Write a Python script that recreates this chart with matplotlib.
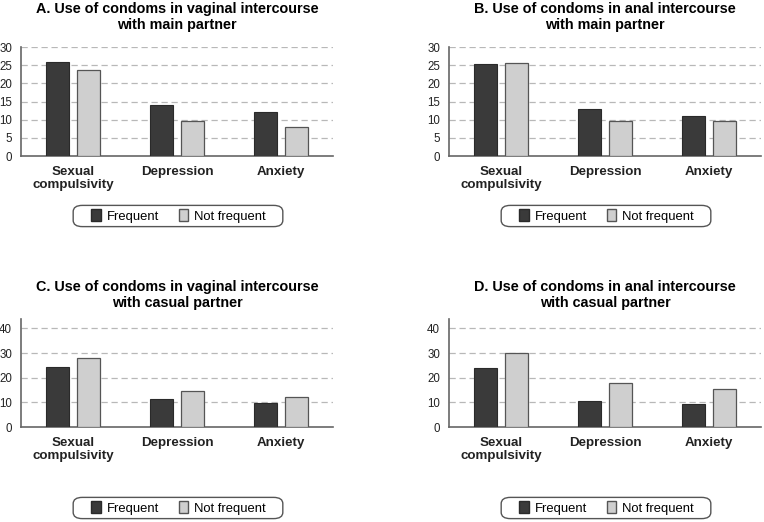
import numpy as np
import matplotlib
matplotlib.use("Agg")
import matplotlib.pyplot as plt
from matplotlib.patches import Patch, FancyBboxPatch

plt.rcParams['font.family'] = ['Liberation Sans', 'DejaVu Sans']

# Data
categories = ["Sexual\ncompulsivity", "Depression", "Anxiety"]
series_names = ["Frequent", "Not frequent"]

titles = [
    "A. Use of condoms in vaginal intercourse\nwith main partner",
    "B. Use of condoms in anal intercourse\nwith main partner",
    "C. Use of condoms in vaginal intercourse\nwith casual partner",
    "D. Use of condoms in anal intercourse\nwith casual partner",
]

a_frequent = [26.0, 14.1, 12.2]
a_not_frequent = [23.6, 9.5, 8.1]
b_frequent = [25.4, 12.8, 10.9]
b_not_frequent = [25.5, 9.7, 9.6]
c_frequent = [24.2, 11.4, 9.9]
c_not_frequent = [27.8, 14.6, 12.3]
d_frequent = [23.9, 10.7, 9.3]
d_not_frequent = [30.0, 17.7, 15.5]

top_ticks = [0, 5, 10, 15, 20, 25, 30]
bottom_ticks = [0, 10, 20, 30, 40]

dark = "#3a3a3a"
light = "#cfcfcf"
edge = "#555555"

W, H = 764, 522
fig = plt.figure(figsize=(W / 100, H / 100), dpi=100)


def px_axes(left, top, right, bottom):
    return fig.add_axes([left / W, 1 - bottom / H, (right - left) / W, (bottom - top) / H])


# (values, values, axes box in px, ticks, ymax, legend box in px, title pad)
panels = [
    (a_frequent, a_not_frequent, (21, 47, 333, 156), top_ticks, 30, (73, 204, 283, 228), 13),
    (b_frequent, b_not_frequent, (449, 47, 761, 156), top_ticks, 30, (501, 204, 711, 228), 13),
    (c_frequent, c_not_frequent, (21, 319, 333, 427), bottom_ticks, 43.8, (73, 496, 283, 520), 8.6),
    (d_frequent, d_not_frequent, (449, 319, 761, 427), bottom_ticks, 43.8, (501, 496, 711, 520), 8.6),
]

x = np.arange(len(categories))
bw = 0.22
off = 0.148

for title, (freq, notfreq, box, ticks, ymax, lbox, tpad) in zip(titles, panels):
    ax = px_axes(*box)
    ax.bar(x - off, freq, bw, color=dark, edgecolor="#2a2a2a", linewidth=0.8, zorder=3)
    ax.bar(x + off, notfreq, bw, color=light, edgecolor=edge, linewidth=0.9, zorder=3)
    ax.set_xlim(-0.5, 2.5)
    ax.set_ylim(0, ymax)
    ax.set_yticks(ticks)
    ax.set_yticklabels([str(t) for t in ticks])
    ax.set_xticks(x)
    ax.set_xticklabels(categories, fontweight="bold", linespacing=1.15)
    ax.tick_params(axis="both", length=0, colors="#222222")
    ax.tick_params(axis="y", labelsize=8.3, pad=6.5)
    ax.tick_params(axis="x", labelsize=9.6, pad=7)
    for t in ticks[1:]:
        ax.axhline(t, color="#b8b8b8", linestyle=(0, (5, 3)), linewidth=0.9, zorder=1)
    for s in ["top", "right"]:
        ax.spines[s].set_visible(False)
    for s in ["left", "bottom"]:
        ax.spines[s].set_color("#666666")
        ax.spines[s].set_linewidth(1.2)
    ax.set_title(title, fontweight="bold", fontsize=10.4, linespacing=1.2, pad=tpad)

    # legend with a rounded box
    l, t, r, b = lbox
    frame = FancyBboxPatch(((l + 4) / W, 1 - (b - 4) / H), (r - l - 8) / W, (b - t - 8) / H,
                           boxstyle="round,pad=0.005,rounding_size=0.012",
                           transform=fig.transFigure, facecolor="white",
                           edgecolor="#555555", linewidth=1.0, zorder=1)
    fig.patches.append(frame)
    handles = [Patch(facecolor=dark, edgecolor="#2a2a2a", label=series_names[0]),
               Patch(facecolor=light, edgecolor=edge, label=series_names[1])]
    leg = fig.legend(handles=handles, loc="center", ncol=2,
                     bbox_to_anchor=((l + r) / 2 / W + 0.5 / W, 1 - (t + b) / 2 / H),
                     frameon=False, fontsize=9.4,
                     handlelength=0.75, handleheight=0.95, handletextpad=0.45,
                     columnspacing=1.5, borderpad=0.2, borderaxespad=0)

fig.savefig("out.png", dpi=100)
